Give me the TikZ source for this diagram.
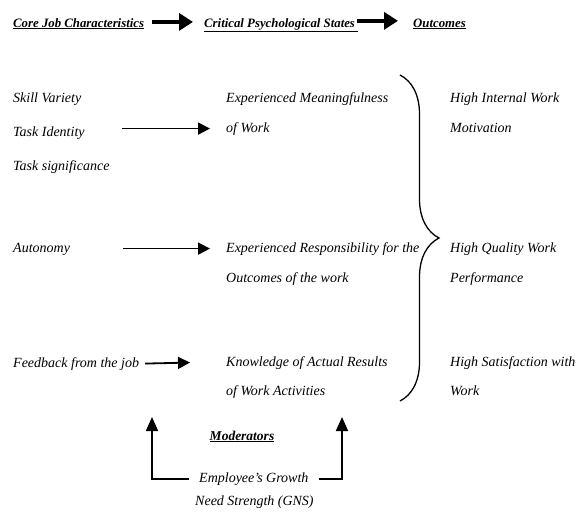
\documentclass[tikz,border=0pt]{standalone}
\usepackage{fontspec}
\setmainfont{Liberation Serif}
\usetikzlibrary{arrows.meta,decorations.pathreplacing}

\begin{document}
\begin{tikzpicture}[x=1pt,y=-1pt,
    every node/.style={inner sep=0pt,anchor=base west,font=\fontsize{14}{16}\selectfont\itshape},
    head/.style={font=\fontsize{12.8}{15}\selectfont\itshape\bfseries},
    big arrow/.style={-{Triangle[length=14pt,width=17pt]},line width=3.8pt},
    row arrow/.style={-{Triangle[length=12pt,width=12pt]},line width=1.8pt},
    up arrow/.style={-{Triangle[length=14pt,width=12pt]},line width=1.8pt}]
    \useasboundingbox (0,0) rectangle (583,512);

    % headings
    \node[head] (Core) at (13,27) {\underline{Core Job Characteristics}};
    \node[head] (Critical) at (204,27) {\underline{Critical Psychological States\ }};
    \node[head] (Outcomes) at (413,27) {\underline{Outcomes}};
    \draw[big arrow] ([xshift=-52pt,yshift=3pt]Critical.west) to ([xshift=-11pt,yshift=3pt]Critical.west);
    \draw[big arrow] ([xshift=-56pt,yshift=3pt]Outcomes.west) to ([xshift=-15pt,yshift=3pt]Outcomes.west);

    % core job characteristics
    \node (Skill Variety) at (13,102) {Skill Variety};
    \node (Task Identity) at (13,136) {Task Identity};
    \node (Task Significance) at (13,170) {Task significance};
    \node (Autonomy) at (13,252) {Autonomy};
    \node (Feedback) at (13,367) {Feedback from the job};

    % psychological states
    \node (Meaning1) at (226,102) {Experienced Meaningfulness};
    \node (Meaning2) at (226,132) {of Work};
    \node (Resp1) at (226,252) {Experienced Responsibility for the};
    \node (Resp2) at (226,282) {Outcomes of the work};
    \node (Know1) at (226,366) {Knowledge of Actual Results};
    \node (Know2) at (226,395) {of Work Activities};

    % outcomes
    \node (Motiv1) at (450,102) {High Internal Work};
    \node (Motiv2) at (450,132) {Motivation};
    \node (Quality1) at (450,252) {High Quality Work};
    \node (Quality2) at (450,282) {Performance};
    \node (Satis1) at (450,366) {High Satisfaction with};
    \node (Satis2) at (450,395) {Work};

    \draw[row arrow] ([xshift=-104pt]Meaning2.west) to ([xshift=-16pt]Meaning2.west);
    \draw[row arrow] ([xshift=-103pt]Resp1.west) to ([xshift=-16pt]Resp1.west);
    \draw[row arrow] ([xshift=6pt]Feedback.east) to ([xshift=-36pt]Know1.west);

    % brace
    \coordinate (Brace Top) at (400,75);
    \coordinate (Brace Bottom) at (400,401);
    \draw[line width=1.3pt,decorate,decoration={brace,amplitude=39pt}] (Brace Top) to (Brace Bottom);

    % moderators
    \node[head,font=\fontsize{13.5}{15}\selectfont\itshape\bfseries,anchor=base] (Moderators) at (242,440) {\underline{Moderators}};
    \node (GNS1) at (199,482) {Employee’s Growth};
    \node (GNS2) at (195,505) {Need Strength (GNS)};
    \coordinate (Left Tip) at (152,417);
    \coordinate (Right Tip) at (342,417);
    \draw[up arrow] ([xshift=-10pt]GNS1.west) -| (Left Tip);
    \draw[up arrow] ([xshift=10pt]GNS1.east) -| (Right Tip);
\end{tikzpicture}
\end{document}
